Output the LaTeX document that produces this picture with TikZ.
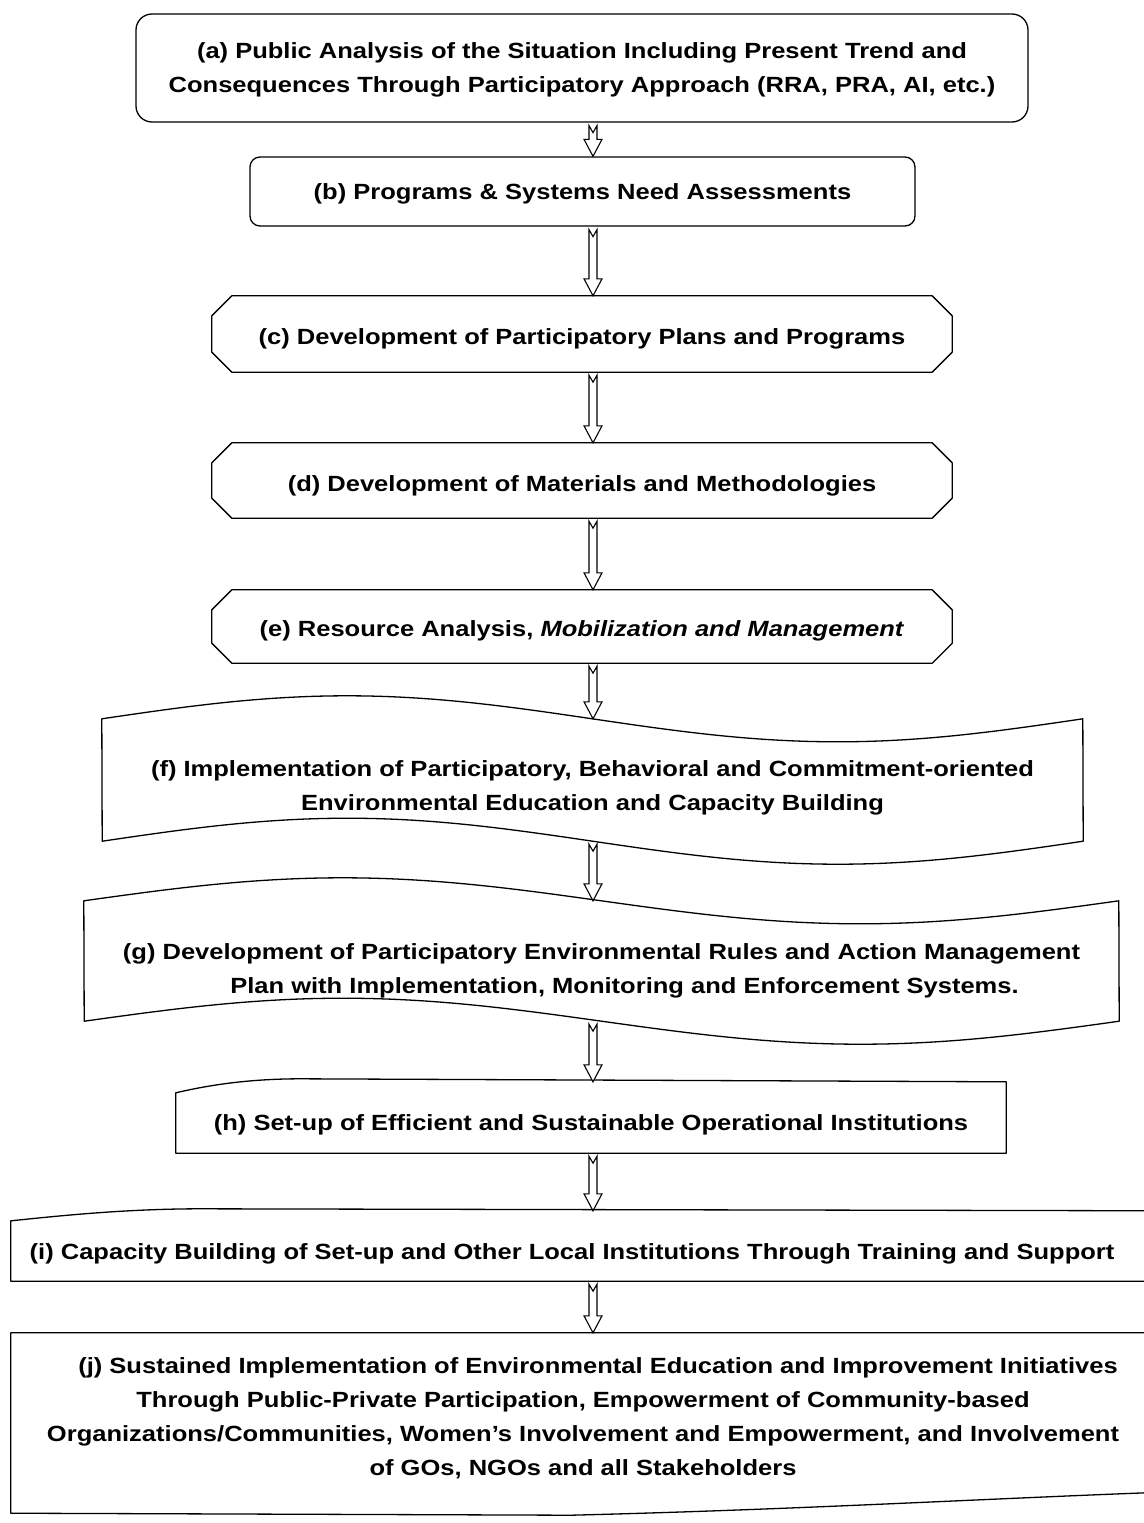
\documentclass[tikz,border=0pt]{standalone}
\usepackage{fontspec}
\setmainfont{Liberation Sans}[FakeStretch=1.16]
\usetikzlibrary{calc}

\tikzset{
  stage/.style={inner sep=0pt, font=\fontsize{22}{34}\selectfont\bfseries},
  outline/.style={line width=1.3pt, line join=round},
  hollow/.style={line width=1.1pt, fill=white, line join=miter},
}

% centred lines of text, drawn #1 lower than the box they occupy
\newcommand\lowered[2]{\raisebox{-#1}[\height][\depth]{\begin{tabular}{@{}c@{}}#2\end{tabular}}}

% octagonal box: corners cut off by 20 units
\newcommand\chamferbox[1]{%
  \draw[outline] ($(#1.north west)+(20,0)$) -- ($(#1.north east)+(-20,0)$)
    -- ($(#1.north east)+(0,20)$) -- ($(#1.south east)+(0,-20)$)
    -- ($(#1.south east)+(-20,0)$) -- ($(#1.south west)+(20,0)$)
    -- ($(#1.south west)+(0,-20)$) -- ($(#1.north west)+(0,20)$) -- cycle;}

% tape box: top and bottom edges are one full sine period
% #1 node, #2 width, #3 amplitude
\newcommand\wavebox[3]{%
  \draw[outline] (#1.north west) sin ++(#2/4,-#3) cos ++(#2/4,#3)
    sin ++(#2/4,#3) cos ++(#2/4,-#3) -- (#1.south east)
    sin ++(-#2/4,#3) cos ++(-#2/4,-#3) sin ++(-#2/4,-#3) cos ++(-#2/4,#3) -- cycle;}

% hollow block arrow with notched tail, running down the spine
\newcommand\flowarrow[2]{%
  \draw[hollow] let \p1=(spine |- #1.south), \p2=(spine |- #2.north) in
    (\x1-4pt,\y1-3pt) -- (\x1,\y1-10pt) -- (\x1+4pt,\y1-3pt)
    -- (\x1+4pt,\y2+17pt) -- (\x1+9pt,\y2+17pt) -- (\x1,\y2)
    -- (\x1-9pt,\y2+17pt) -- (\x1-4pt,\y2+17pt) -- cycle;}

\begin{document}
\begin{tikzpicture}[x=1pt, y=-1pt]
\fill[white] (0,0) rectangle (1143,1523);
\useasboundingbox (0,0) rectangle (1143,1523);
\coordinate (spine) at (593,0);

\node[stage, draw, outline, rounded corners=16pt, minimum width=892pt, minimum height=108pt] (a) at (582,68)
  {\lowered{1pt}{(a) Public Analysis of the Situation Including Present Trend and\\Consequences Through Participatory Approach (RRA, PRA, AI, etc.)}};

\node[stage, draw, outline, rounded corners=10pt, minimum width=665pt, minimum height=69pt] (b) at (582.5,191.5)
  {\lowered{1pt}{(b) Programs \& Systems Need Assessments}};

\node[stage, minimum width=740pt, minimum height=76pt] (c) at (582,334)
  {\lowered{4pt}{(c) Development of Participatory Plans and Programs}};
\chamferbox{c}

\node[stage, minimum width=740pt, minimum height=75pt] (d) at (582,480.5)
  {\lowered{4pt}{(d) Development of Materials and Methodologies}};
\chamferbox{d}

\node[stage, minimum width=740pt, minimum height=73pt] (e) at (582,626.5)
  {\lowered{3pt}{(e) Resource Analysis, \textit{Mobilization and Management}}};
\chamferbox{e}

\node[stage, minimum width=981pt, minimum height=122pt] (f) at (592.5,780)
  {\lowered{7pt}{(f) Implementation of Participatory, Behavioral and Commitment-oriented\\Environmental Education and Capacity Building}};
\wavebox{f}{981}{23}

\node[stage, minimum width=1035pt, minimum height=120pt] (g) at (601.5,961)
  {\lowered{9pt}{(g) Development of Participatory Environmental Rules and Action Management\\\hspace*{46pt}Plan with Implementation, Monitoring and Enforcement Systems.}};
\wavebox{g}{1035}{23}

\node[stage, minimum width=830pt, minimum height=71pt] (h) at (591,1117.5)
  {\lowered{6pt}{(h) Set-up of Efficient and Sustainable Operational Institutions}};
\draw[outline] (h.north east) -- ($(h.north west)+(125,-3)$)
  .. controls ($(h.north west)+(70,-3)$) and ($(h.north west)+(30,4)$) .. ($(h.north west)+(0,11)$)
  -- (h.south west) -- (h.south east) -- cycle;

\node[stage, minimum width=1122pt, minimum height=70pt] (i) at (572,1246)
  {\lowered{7pt}{(i) Capacity Building of Set-up and Other Local Institutions Through Training and Support}};
\draw[outline] ($(i.north east)+(40,0)$) -- ($(i.north west)+(190,-2)$)
  .. controls ($(i.north west)+(110,-2)$) and ($(i.north west)+(40,6)$) .. ($(i.north west)+(0,10)$)
  -- (i.south west) -- ($(i.south east)+(40,0)$);

\node[stage, minimum width=1144pt, minimum height=180pt] (j) at (583,1423)
  {\lowered{-5pt}{\hspace*{30pt}(j) Sustained Implementation of Environmental Education and Improvement Initiatives\\
   Through Public-Private Participation, Empowerment of Community-based\\
   Organizations/Communities, Women's Involvement and Empowerment, and Involvement\\
   of GOs, NGOs and all Stakeholders}};
\draw[outline] ($(j.north east)+(40,0)$) -- (j.north west) -- (j.south west)
  -- ($(j.south west)+(560,2)$)
  .. controls ($(j.south west)+(800,-4)$) and ($(j.south west)+(1000,-16)$) .. ($(j.south west)+(1180,-22)$);

\flowarrow{a}{b}
\flowarrow{b}{c}
\flowarrow{c}{d}
\flowarrow{d}{e}
\flowarrow{e}{f}
\flowarrow{f}{g}
\flowarrow{g}{h}
\flowarrow{h}{i}
\flowarrow{i}{j}
\end{tikzpicture}
\end{document}
